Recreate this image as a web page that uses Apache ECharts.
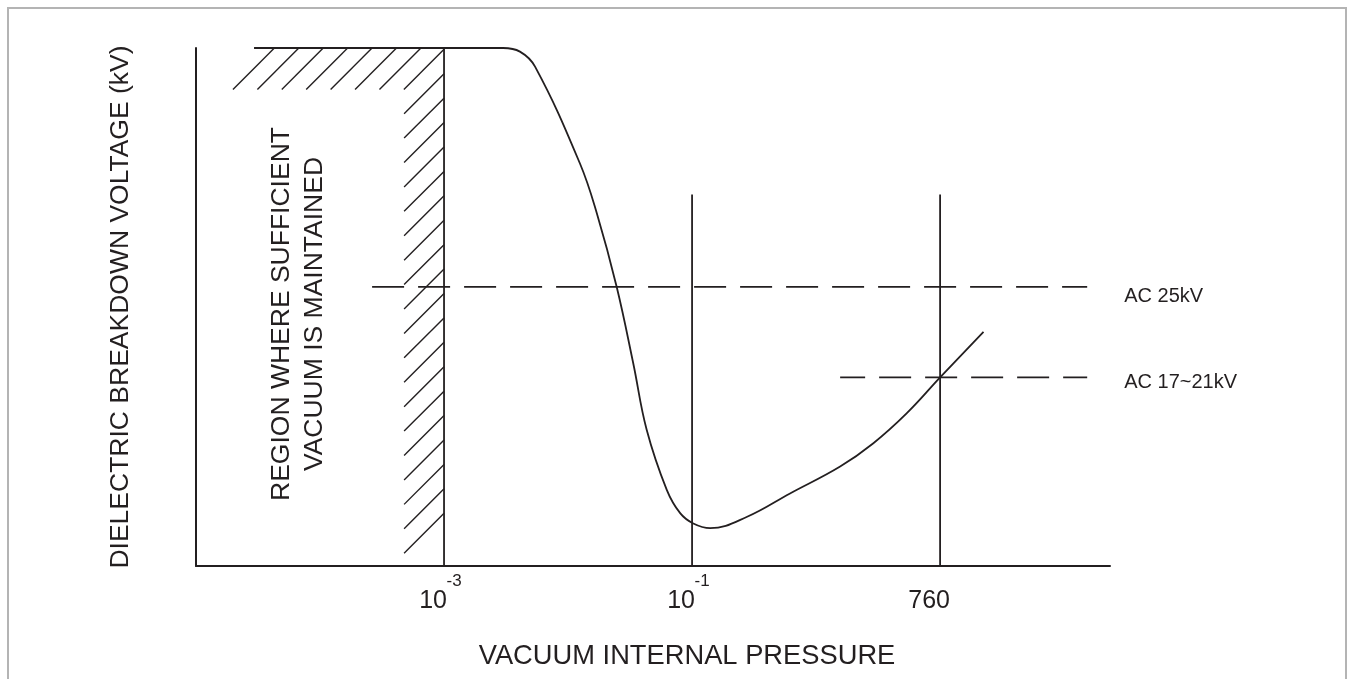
<!DOCTYPE html>
<html>
<head>
<meta charset="utf-8">
<title>Dielectric breakdown voltage vs vacuum internal pressure</title>
<script src="https://cdn.jsdelivr.net/npm/echarts@6.0.0/dist/echarts.min.js"></script>
<style>
  html, body { margin: 0; padding: 0; background: #fff; }
  #chart { width: 1349px; height: 679px; }
</style>
</head>
<body>
<div id="chart"></div>
<script>
// x position: 1 = 10^-3, 2 = 10^-1, 3 = 760 (equally spaced on the drawing)
var tickValues = [1, 2, 3];
var tickBase = ['10', '10', '760'];
var tickExp = ['-3', '-1', ''];

// breakdown curve (y in % of the axis height)
var curveX = [0.234, 0.742, 1.238, 1.306, 1.367, 1.548, 1.616, 1.696, 1.763, 1.817, 1.898, 1.952, 2.005, 2.073, 2.222, 2.395, 2.597, 2.731, 2.866, 3.0, 3.175];
var curveY = [100, 100, 100, 99.3, 96.4, 77.7, 68.1, 53.9, 39.1, 26.3, 14.7, 10.2, 8.2, 7.3, 9.5, 14.0, 19.2, 23.7, 29.5, 36.4, 45.2];

// vertical guide lines
var guideX = [1, 2, 3];
var guideTop = [100, 71.7, 71.7];

// dashed voltage levels
var levelNames = ['AC 25kV', 'AC 17~21kV'];
var levelY = [53.9, 36.4];
var levelFrom = [0.71, 2.597];
var levelTo = [3.593, 3.593];
var levelDashOffset = [0, 7];
var levelLabelOffset = [[0, 10], [0, 5]];

// hatched region: band left / strip left / right edge, top / band bottom / strip bottom
var hatchX = [0.149, 0.839, 1];
var hatchY = [100, 92.0, 2.45];

var ink = '#231f20';
var font = '"Liberation Sans", Arial, sans-serif';

var chart = echarts.init(document.getElementById('chart'));

function hatchLine(x1, y1, x2, y2) {
  return {
    type: 'line',
    shape: { x1: x1, y1: y1, x2: x2, y2: y2 },
    style: { stroke: ink, lineWidth: 1.4 }
  };
}

function renderHatch(params, api) {
  var tl = api.coord([hatchX[0], hatchY[0]]);
  var band = api.coord([hatchX[1], hatchY[1]]);
  var br = api.coord([hatchX[2], hatchY[2]]);
  var left = tl[0], top = tl[1];
  var stripLeft = band[0], bandBottom = band[1];
  var right = br[0], stripBottom = br[1];
  var step = 24.42;
  var children = [];
  var c = left + bandBottom;
  for (; c <= stripLeft + bandBottom + 0.5; c += step) {
    var ex = Math.min(c - top, right);
    children.push(hatchLine(c - bandBottom, bandBottom, ex, c - ex));
  }
  for (; c <= stripLeft + stripBottom + 0.5; c += step) {
    children.push(hatchLine(stripLeft, c - stripLeft, right, c - right));
  }
  return { type: 'group', children: children };
}

var series = [];

series.push({
  type: 'custom',
  renderItem: renderHatch,
  data: [[hatchX[0], hatchY[0]]],
  silent: true,
  z: 1
});

guideX.forEach(function (x, i) {
  series.push({
    type: 'line',
    data: [[x, 0], [x, guideTop[i]]],
    showSymbol: false,
    lineStyle: { color: ink, width: 1.8 },
    silent: true,
    z: 2
  });
});

levelNames.forEach(function (name, i) {
  series.push({
    name: name,
    type: 'line',
    data: [[levelFrom[i], levelY[i]], [levelTo[i], levelY[i]]],
    showSymbol: false,
    lineStyle: { color: ink, width: 1.8, type: [32, 14], dashOffset: levelDashOffset[i] },
    endLabel: {
      show: true,
      formatter: name,
      distance: 37,
      offset: levelLabelOffset[i],
      color: ink,
      fontSize: 20,
      fontFamily: font
    },
    silent: true,
    z: 3
  });
});

series.push({
  name: 'breakdown',
  type: 'line',
  data: curveX.map(function (x, i) { return [x, curveY[i]]; }),
  smooth: 0.4,
  showSymbol: false,
  lineStyle: { color: ink, width: 1.8 },
  silent: true,
  z: 4
});

var option = {
  animation: false,
  backgroundColor: '#fff',
  grid: { left: 196, right: 239, top: 48, bottom: 113 },
  xAxis: {
    type: 'value',
    min: 0,
    max: 3.685,
    interval: 1,
    name: 'VACUUM INTERNAL PRESSURE',
    nameLocation: 'middle',
    nameGap: 77,
    nameTextStyle: { color: ink, fontSize: 27.3, fontFamily: font, padding: [0, 0, 0, 68] },
    axisLine: { show: true, lineStyle: { color: ink, width: 2 } },
    axisTick: { show: false },
    splitLine: { show: false },
    axisLabel: {
      showMinLabel: false,
      showMaxLabel: false,
      margin: 8,
      padding: [0, 22, 0, 0],
      // exponent sits on its own line above, pushed right of the base
      formatter: function (v) {
        var i = tickValues.indexOf(v);
        if (i < 0) return '';
        return '{s|' + (tickExp[i] || ' ') + '}\n{n|' + tickBase[i] + '}';
      },
      rich: {
        n: { color: ink, fontSize: 25, lineHeight: 26, fontFamily: font },
        s: { color: ink, fontSize: 17, lineHeight: 14, fontFamily: font, padding: [0, 0, 0, 42] }
      }
    }
  },
  yAxis: {
    type: 'value',
    min: 0,
    max: 100,
    name: 'DIELECTRIC BREAKDOWN VOLTAGE (kV)',
    nameLocation: 'middle',
    nameRotate: 90,
    nameGap: 62,
    nameTextStyle: { color: ink, fontSize: 26.5, fontFamily: font },
    axisLine: { show: true, lineStyle: { color: ink, width: 2 } },
    axisTick: { show: false },
    axisLabel: { show: false },
    splitLine: { show: false }
  },
  graphic: [
    {
      type: 'rect',
      shape: { x: 8, y: 8, width: 1338, height: 700 },
      style: { fill: 'none', stroke: '#b4b4b4', lineWidth: 2 },
      silent: true,
      z: 0
    },
    {
      type: 'text',
      x: 298.5,
      y: 314,
      rotation: Math.PI / 2,
      style: {
        text: 'REGION WHERE SUFFICIENT\nVACUUM IS MAINTAINED',
        fill: ink,
        font: '26.5px ' + font,
        lineHeight: 33,
        align: 'center',
        verticalAlign: 'middle',
        textAlign: 'center',
        textVerticalAlign: 'middle'
      },
      silent: true,
      z: 5
    }
  ],
  series: series
};

chart.setOption(option);
</script>
</body>
</html>
